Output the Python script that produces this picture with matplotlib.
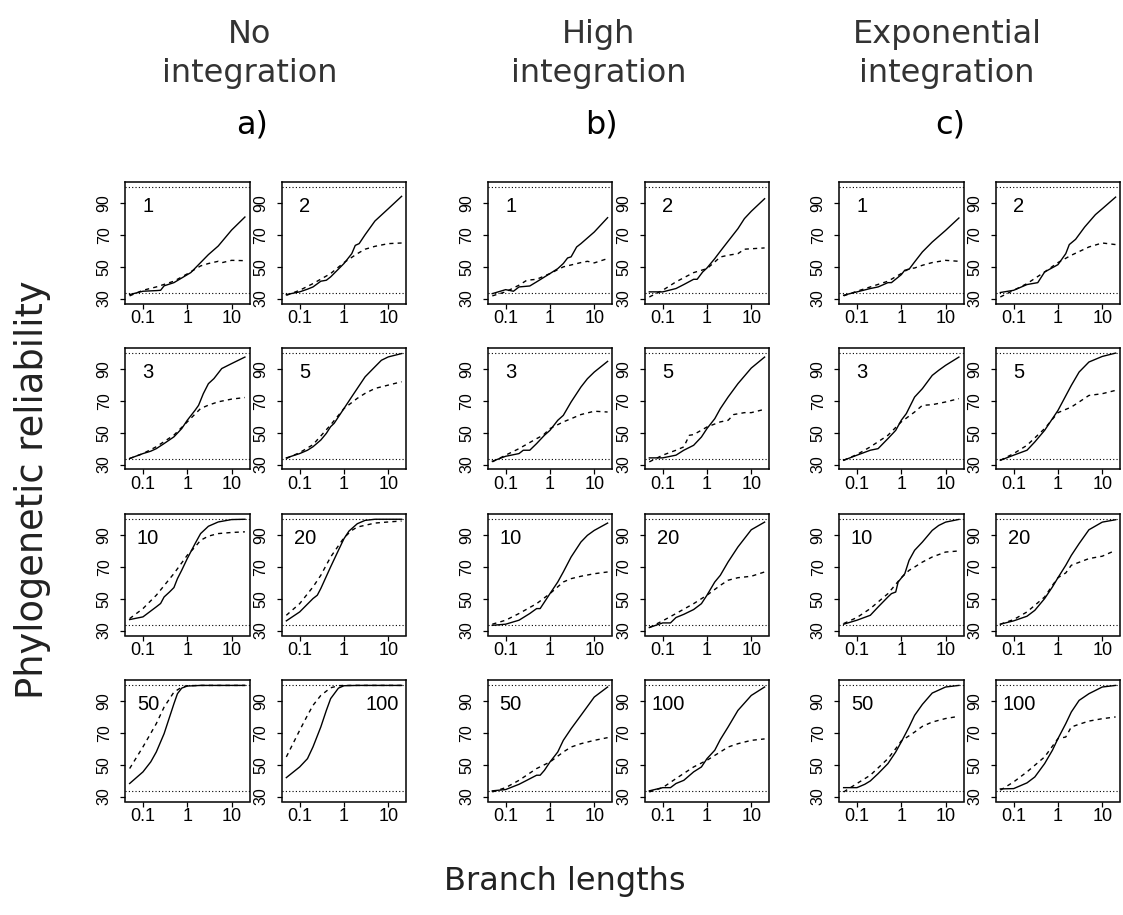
import matplotlib
matplotlib.use("Agg")
import numpy as np
import matplotlib.pyplot as plt
from matplotlib.ticker import FixedLocator, NullLocator, FixedFormatter

# ---- data: (branch length, reliability %) ----
panel_labels = ["1", "2", "3", "5", "10", "20", "50", "100"]
group_titles = ["No\nintegration", "High\nintegration", "Exponential\nintegration"]
group_letters = ["a)", "b)", "c)"]
chance_level = 100 / 3

# a) no integration
no_1_solid = [(0.05, 32.5), (0.1, 34.6), (0.2, 35), (0.25, 35.2), (0.3, 38), (0.5, 40), (1, 45), (1.2, 46.3),
              (2, 52.6), (3, 57.6), (5, 63), (10, 73), (20, 81.2)]
no_1_dashed = [(0.05, 31.7), (0.1, 35.2), (0.2, 37.3), (0.5, 40.9), (1, 45.5), (2, 50.5), (3, 52), (5, 53.4),
               (6, 52.5), (10, 54), (20, 53.8)]
no_2_solid = [(0.05, 32.5), (0.1, 34.2), (0.15, 35.9), (0.2, 37.3), (0.3, 40.9), (0.4, 41.5), (0.5, 43.6), (1, 52),
              (1.5, 58.2), (1.8, 63.4), (2.2, 64.5), (3, 70.1), (5, 78.7), (10, 86.4), (20, 94.2)]
no_2_dashed = [(0.05, 32), (0.1, 35.2), (0.2, 39.4), (0.5, 45.7), (1, 52.6), (2, 58.2), (3, 61), (5, 62.8),
               (10, 64.5), (20, 64.9)]
no_3_solid = [(0.05, 33.8), (0.1, 36.9), (0.15, 38.4), (0.2, 40), (0.3, 43.2), (0.5, 47.4), (0.75, 52.6), (1, 57.8),
              (1.5, 64.1), (1.8, 67.2), (2.3, 74.5), (3, 80.8), (4, 84), (6, 90.3), (10, 93.4), (20, 97.5)]
no_3_dashed = [(0.05, 33.8), (0.1, 36.9), (0.2, 41.2), (0.5, 48.5), (1, 56.8), (2, 65.2), (3, 67.3), (5, 69.4),
               (10, 71.1), (20, 72.1)]
no_5_solid = [(0.05, 34.2), (0.1, 36.9), (0.15, 39), (0.2, 41.2), (0.3, 45.4), (0.4, 49.6), (0.5, 53.8), (0.6, 55.9),
              (1, 65.2), (1.5, 72.6), (2, 77.8), (3, 85.1), (5, 91.4), (7, 95.5), (10, 97.6), (20, 99.7)]
no_5_dashed = [(0.05, 33.8), (0.1, 37.5), (0.2, 42.5), (0.5, 54.9), (1, 65.2), (2, 71.6), (3, 74.7), (5, 77.8),
               (10, 79.9), (20, 82)]
no_10_solid = [(0.05, 36.9), (0.1, 38.6), (0.2, 44.9), (0.25, 47), (0.3, 51.1), (0.4, 54.3), (0.5, 57), (0.6, 62.6),
               (0.75, 67.9), (1, 75.2), (1.5, 84.6), (2, 90.9), (3, 95.5), (5, 98.2), (10, 99.7), (20, 99.9)]
no_10_dashed = [(0.05, 37.5), (0.1, 43.8), (0.2, 52.2), (0.5, 65.8), (1, 77.3), (1.5, 82.5), (2, 86.7), (3, 89.3),
                (5, 90.9), (10, 91.6), (20, 92)]
no_20_solid = [(0.05, 36.1), (0.1, 41.7), (0.2, 50.1), (0.25, 52.2), (0.3, 56.4), (0.5, 70), (0.75, 80.4), (1, 87.7),
               (1.3, 92.5), (2, 97.1), (3, 99.2), (5, 99.9), (20, 99.9)]
no_20_dashed = [(0.05, 39.6), (0.1, 46.9), (0.2, 57.4), (0.3, 64.7), (0.5, 76.2), (1, 88.3), (1.5, 92.9), (2, 95),
                (5, 97.5), (10, 98.2), (20, 98.8)]
no_50_solid = [(0.05, 38.2), (0.1, 45.5), (0.15, 51.8), (0.2, 58), (0.3, 69.5), (0.5, 88.3), (0.6, 94.6),
               (0.75, 98.1), (1, 99.4), (2, 99.8), (20, 99.8)]
no_50_dashed = [(0.05, 47.6), (0.1, 61.2), (0.2, 75.8), (0.3, 86.2), (0.5, 95.6), (0.75, 98.7), (1, 99.6),
                (2, 99.8), (20, 99.8)]
no_100_solid = [(0.05, 41.9), (0.1, 48.6), (0.15, 53.8), (0.2, 61.2), (0.3, 73.7), (0.4, 84.1), (0.5, 91.5),
                (0.75, 98.1), (1, 99.6), (2, 99.8), (20, 99.8)]
no_100_dashed = [(0.05, 54.9), (0.1, 71.6), (0.15, 81), (0.2, 87.3), (0.3, 93.5), (0.5, 98.3), (0.75, 99.6),
                 (1, 99.8), (20, 99.8)]

# b) high integration
high_1_solid = [(0.05, 33.1), (0.1, 35.6), (0.15, 34.6), (0.2, 37.3), (0.35, 37.9), (0.5, 40.5), (1, 45.7),
                (1.5, 48.8), (2, 52), (2.5, 55.5), (3, 56.2), (4, 62.4), (5, 64.5), (10, 71.8), (20, 80.8)]
high_1_dashed = [(0.05, 31.7), (0.1, 34.2), (0.2, 38.4), (0.3, 41.5), (0.5, 42.1), (1, 45.7), (2, 49.9), (5, 52.6),
                 (7, 53.4), (10, 52.4), (20, 55.1)]
high_2_solid = [(0.05, 34.2), (0.1, 34.2), (0.2, 36.3), (0.3, 38.8), (0.5, 42.1), (0.6, 42.1), (0.8, 46.7),
                (1, 49.2), (1.5, 55.1), (2, 59.7), (3, 66), (5, 73.9), (7, 80.2), (10, 84.8), (20, 92.7)]
high_2_dashed = [(0.05, 31), (0.1, 35.2), (0.2, 40.5), (0.5, 46.3), (1, 48.8), (1.5, 53), (2, 56.1), (3, 57.2),
                 (5, 58.2), (7, 61), (20, 61.8)]
high_3_solid = [(0.05, 32.1), (0.1, 35.2), (0.2, 36.9), (0.25, 39), (0.35, 39), (0.5, 43.2), (0.75, 48.4),
                (1, 51.5), (1.5, 57.8), (2, 60.9), (3, 69.3), (5, 78.7), (7, 83.9), (10, 88.1), (20, 94.8)]
high_3_dashed = [(0.05, 31.7), (0.1, 35.9), (0.2, 40), (0.5, 46.3), (0.7, 48.4), (1, 52.6), (2, 56.8), (3, 58.8),
                 (5, 61.4), (10, 63.5), (20, 63)]
high_5_solid = [(0.05, 34.2), (0.1, 34.2), (0.2, 35.9), (0.3, 39), (0.5, 42.1), (0.75, 47.3), (1, 52.6),
                (1.5, 58.8), (2, 65.1), (3, 72.4), (5, 80.8), (10, 90.6), (20, 97.5)]
high_5_dashed = [(0.05, 31.7), (0.1, 35.9), (0.2, 39), (0.3, 41.1), (0.4, 48.4), (0.5, 48.8), (1, 53.6),
                 (2, 56.8), (3, 57.8), (4, 61.4), (7, 62.6), (10, 62.6), (20, 64.7)]
high_10_solid = [(0.05, 33.3), (0.1, 34), (0.2, 36.5), (0.35, 40.7), (0.5, 43.8), (0.6, 43.8), (1, 53.2),
                 (1.5, 60.5), (2, 66.8), (3, 76.2), (5, 85.6), (7, 89.8), (10, 92.9), (20, 97.5)]
high_10_dashed = [(0.05, 34), (0.1, 36.5), (0.2, 40.7), (0.5, 46.9), (1, 53.2), (2, 60.5), (3, 62.6), (5, 64.1),
                  (10, 65.7), (20, 66.8)]
high_20_solid = [(0.05, 31.9), (0.1, 34.8), (0.15, 34.8), (0.2, 38.2), (0.3, 40.2), (0.5, 43.2), (0.75, 46.9),
                 (1, 52.2), (1.5, 60.5), (2, 64.7), (3, 73.1), (5, 82.5), (10, 93.3), (20, 98.1)]
high_20_dashed = [(0.05, 31.9), (0.1, 36.1), (0.2, 40.7), (0.5, 46.9), (1, 52.2), (2, 58.4), (3, 61.6), (5, 63.2),
                  (10, 64.1), (20, 66.8)]
high_50_solid = [(0.05, 33.6), (0.1, 34.4), (0.2, 37.7), (0.3, 40.2), (0.5, 43.4), (0.6, 43.4), (0.75, 46.5),
                 (1, 51.7), (1.5, 58), (2, 65.3), (3, 72.6), (5, 81), (10, 92.5), (20, 98.8)]
high_50_dashed = [(0.05, 32.9), (0.1, 35.6), (0.2, 40.2), (0.5, 47.6), (1, 51.7), (2, 58), (3, 61.1), (5, 63.2),
                  (10, 65.3), (20, 67)]
high_100_solid = [(0.05, 33.6), (0.1, 35.6), (0.15, 35.6), (0.2, 38.2), (0.3, 40.2), (0.5, 45.5), (0.75, 48.6),
                  (1, 53.8), (1.5, 59.1), (2, 65.8), (3, 73.7), (5, 84.1), (10, 93.5), (20, 98.8)]
high_100_dashed = [(0.05, 32.9), (0.1, 35.6), (0.2, 41.3), (0.5, 48.6), (1, 52.8), (2, 58), (3, 61.1), (5, 63.2),
                   (10, 65.3), (20, 66.2)]

# c) exponential integration
exp_1_solid = [(0.05, 32.1), (0.1, 34.2), (0.2, 36.3), (0.3, 37.3), (0.5, 40), (0.6, 40), (1, 45), (1.2, 47.8),
               (1.5, 48.4), (2, 53), (3, 59.3), (5, 65.5), (10, 72.8), (20, 80.6)]
exp_1_dashed = [(0.05, 31.7), (0.1, 34.6), (0.2, 37.3), (0.5, 40.9), (1, 45.7), (1.5, 48.8), (2, 49.2), (3, 50.9),
                (5, 52.6), (10, 54), (20, 53.4)]
exp_2_solid = [(0.05, 33.8), (0.1, 35.2), (0.2, 38.8), (0.35, 40), (0.5, 46.7), (1, 51.3), (1.5, 58.2), (1.8, 63.9),
               (2.5, 67.2), (4, 74.9), (7, 82.7), (10, 86.4), (20, 93.7)]
exp_2_dashed = [(0.05, 31), (0.1, 35.2), (0.2, 39.4), (0.5, 46.7), (1, 52.6), (2, 57.2), (5, 62.4), (10, 64.9),
                (20, 63.9)]
exp_3_solid = [(0.05, 32.7), (0.1, 35.9), (0.2, 39), (0.3, 40), (0.5, 46.3), (0.75, 51.5), (1, 57.8), (1.3, 62),
               (2, 72.4), (3, 77.7), (5, 86), (7, 89.2), (10, 92.3), (20, 97.5)]
exp_3_dashed = [(0.05, 32.7), (0.1, 36.3), (0.2, 41.1), (0.5, 48.4), (1, 56.8), (2, 63), (3, 67.2), (5, 67.6),
                (10, 69.3), (20, 71.4)]
exp_5_solid = [(0.05, 32.7), (0.1, 35.9), (0.2, 39), (0.3, 44.2), (0.5, 51.5), (1, 64), (2, 79.7), (3, 88.1),
               (5, 94.4), (10, 97.9), (20, 100)]
exp_5_dashed = [(0.05, 32.7), (0.1, 36.9), (0.2, 42.1), (0.5, 52.6), (1, 62.6), (2, 66.1), (3, 69.3), (5, 73.4),
                (10, 74.5), (20, 76.6)]
exp_10_solid = [(0.05, 34), (0.1, 36.5), (0.2, 39.6), (0.3, 44.8), (0.5, 51.1), (0.6, 53.2), (0.75, 54.2),
                (0.85, 60.5), (1.2, 65.7), (1.5, 74.1), (2, 80.4), (3, 85.6), (5, 92.9), (7, 96), (10, 98.1),
                (20, 99.8)]
exp_10_dashed = [(0.05, 34.4), (0.1, 38.2), (0.2, 43.8), (0.5, 53.2), (1, 63.2), (1.5, 67.8), (2, 69.9), (3, 73),
                 (5, 76.2), (10, 79.3), (20, 80)]
exp_20_solid = [(0.05, 34), (0.1, 36.1), (0.2, 39), (0.3, 42.7), (0.5, 50.1), (0.75, 57.4), (1, 63.2), (1.5, 71),
                (2, 77.2), (3, 84.6), (5, 93.3), (10, 98.1), (20, 99.6)]
exp_20_dashed = [(0.05, 34), (0.1, 36.9), (0.2, 41.7), (0.5, 51.1), (0.75, 58.4), (1, 63.2), (1.5, 66.2), (2, 71),
                 (5, 75.2), (10, 76.7), (20, 80.4)]
exp_50_solid = [(0.05, 35.6), (0.1, 35.6), (0.15, 37.7), (0.2, 39.8), (0.3, 44.4), (0.5, 50.7), (0.75, 58),
                (1, 64.3), (1.5, 73.7), (2, 81), (3, 87.9), (5, 95), (10, 98.8), (20, 99.8)]
exp_50_dashed = [(0.05, 32.9), (0.1, 38.2), (0.2, 43.4), (0.5, 53.8), (0.75, 60.1), (1, 64.9), (2, 70.5), (3, 74.1),
                 (5, 76.8), (10, 79), (20, 80.4)]
exp_100_solid = [(0.05, 34.8), (0.1, 35), (0.2, 38.6), (0.3, 42.3), (0.5, 50.7), (0.75, 59.1), (1, 66.4),
                 (1.5, 75.8), (2, 83.1), (3, 90.4), (5, 94.6), (10, 98.8), (20, 99.8)]
exp_100_dashed = [(0.05, 34), (0.1, 39.2), (0.2, 45.5), (0.5, 54.9), (1, 66.4), (1.5, 67.4), (2, 73.7), (3, 75.4),
                  (5, 77.4), (10, 78.9), (20, 80)]

solid_curves = [
    [no_1_solid, no_2_solid, no_3_solid, no_5_solid, no_10_solid, no_20_solid, no_50_solid, no_100_solid],
    [high_1_solid, high_2_solid, high_3_solid, high_5_solid, high_10_solid, high_20_solid, high_50_solid,
     high_100_solid],
    [exp_1_solid, exp_2_solid, exp_3_solid, exp_5_solid, exp_10_solid, exp_20_solid, exp_50_solid, exp_100_solid],
]
dashed_curves = [
    [no_1_dashed, no_2_dashed, no_3_dashed, no_5_dashed, no_10_dashed, no_20_dashed, no_50_dashed, no_100_dashed],
    [high_1_dashed, high_2_dashed, high_3_dashed, high_5_dashed, high_10_dashed, high_20_dashed, high_50_dashed,
     high_100_dashed],
    [exp_1_dashed, exp_2_dashed, exp_3_dashed, exp_5_dashed, exp_10_dashed, exp_20_dashed, exp_50_dashed,
     exp_100_dashed],
]

# ---- layout (pixels) ----
W, H = 1123, 915
panel_lefts = [[125, 281.7], [487.7, 644.7], [839, 995.7]]
row_tops = [182, 348, 514, 680]
panel_w, panel_h = 124.5, 121.5
title_x = [250, 599, 947]
letter_x = [252, 601, 950]

TICK_FONT = "Liberation Sans"

fig = plt.figure(figsize=(W / 100, H / 100), dpi=100)


def add_panel(left, top):
    return fig.add_axes([left / W, 1 - (top + panel_h) / H, panel_w / W, panel_h / H])


for g in range(3):
    for i, lab in enumerate(panel_labels):
        r, c = divmod(i, 2)
        ax = add_panel(panel_lefts[g][c], row_tops[r])

        sx, sy = zip(*solid_curves[g][i])
        dx, dy = zip(*dashed_curves[g][i])
        ax.plot(sx, sy, color="black", lw=1.0, solid_joinstyle="round")
        ax.plot(dx, dy, color="black", lw=1.0, linestyle=(0, (3, 3)))
        ax.axhline(chance_level, color="black", lw=0.8, linestyle=(0, (1, 2)))
        ax.axhline(100, color="black", lw=0.8, linestyle=(0, (1, 2)))

        ax.set_xscale("log")
        ax.set_xlim(0.0393, 25.4)
        ax.set_ylim(26.9, 103.2)
        ax.xaxis.set_major_locator(FixedLocator([0.1, 1, 10]))
        ax.xaxis.set_major_formatter(FixedFormatter(["0.1", "1", "10"]))
        ax.xaxis.set_minor_locator(NullLocator())
        ax.set_yticks([30, 50, 70, 90])
        ax.set_yticklabels(["30", "50", "70", "90"], rotation=90, va="center")
        ax.tick_params(axis="both", direction="out", length=3.6, width=0.9)
        ax.tick_params(axis="x", pad=1.0, labelsize=13)
        ax.tick_params(axis="y", pad=6.0, labelsize=11.5)
        for t in ax.get_xticklabels() + ax.get_yticklabels():
            t.set_fontfamily(TICK_FONT)
        for sp in ax.spines.values():
            sp.set_linewidth(1.1)

        # panel number (the last panel of group a sits at the top right)
        if g == 0 and lab == "100":
            ax.text(7.4, 87.7, lab, ha="center", va="center", fontsize=14.5, fontfamily=TICK_FONT)
        else:
            ax.text(0.13, 87.7, lab, ha="center", va="center", fontsize=14.5, fontfamily=TICK_FONT)

    fig.text(title_x[g] / W, 1 - 82 / H, group_titles[g], ha="center", va="baseline", fontsize=23,
             color="#333333", fontfamily="DejaVu Sans", linespacing=1.35)
    fig.text(letter_x[g] / W, 1 - 133 / H, group_letters[g], ha="center", va="baseline", fontsize=23,
             color="black", fontfamily="DejaVu Sans")

fig.text(565 / W, 1 - 890 / H, "Branch lengths", ha="center", va="baseline", fontsize=23,
         color="#222222", fontfamily="DejaVu Sans")
fig.text(33 / W, 1 - 490 / H, "Phylogenetic reliability", ha="center", va="center", rotation=90, fontsize=26.5,
         color="#222222", fontfamily="DejaVu Sans")

fig.savefig("out.png", dpi=100)
